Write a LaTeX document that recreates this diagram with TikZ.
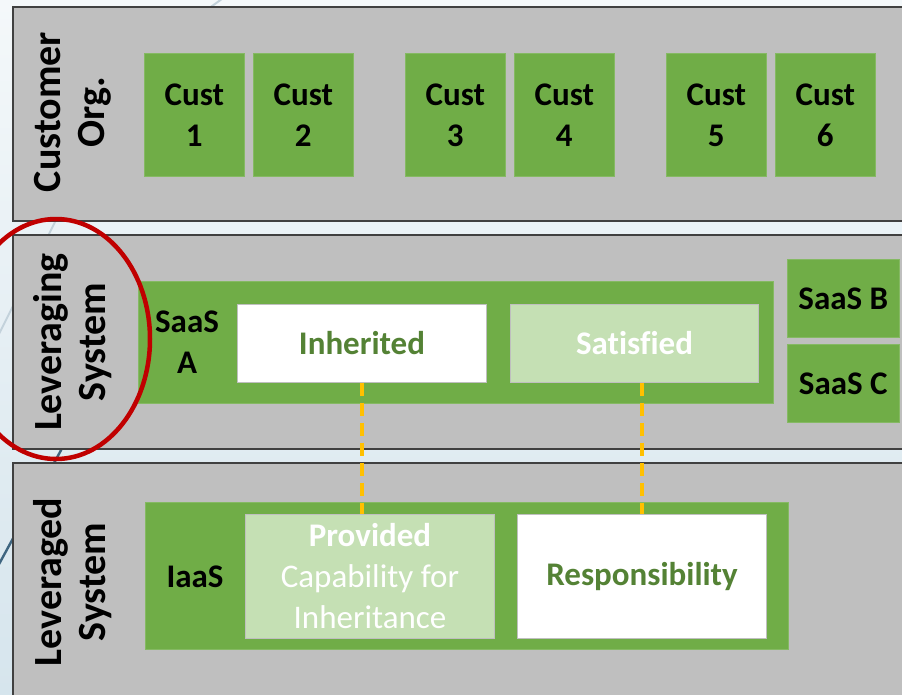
\documentclass[tikz,border=0pt]{standalone}
\usepackage{fontspec}
\setmainfont{Carlito}[Ligatures=NoCommon]
\definecolor{bandgray}{HTML}{BFBFBF}
\definecolor{bandedge}{HTML}{404040}
\definecolor{leafgreen}{HTML}{70AD47}
\definecolor{palegreen}{HTML}{C5E0B4}
\definecolor{deepgreen}{HTML}{548235}
\definecolor{ringred}{HTML}{C00000}
\definecolor{linkorange}{HTML}{FFC000}
\definecolor{skytop}{HTML}{F4F8FA}
\definecolor{skybottom}{HTML}{D6E5ED}
\definecolor{streaklight}{HTML}{C3D2DB}
\definecolor{streakdark}{HTML}{3E6580}
\begin{document}
\begin{tikzpicture}[x=1pt,y=-1pt,
  band/.style={fill=bandgray,draw=bandedge,line width=1.2pt},
  cell/.style={anchor=north west,inner sep=0pt,align=center,text=black,
    font=\fontsize{33}{41}\selectfont\bfseries},
  greenbox/.style={cell,fill=leafgreen,draw=leafgreen!85!white,line width=0.6pt},
  whitebox/.style={cell,fill=white,draw=bandgray,line width=1pt,text=deepgreen},
  palebox/.style={cell,fill=palegreen,draw=bandgray,line width=1pt,text=white},
  vlabel/.style={rotate=90,align=center,inner sep=0pt,
    font=\fontsize{40}{44}\selectfont\bfseries},
  textonly/.style={inner sep=0pt,align=center,
    font=\fontsize{33}{41}\selectfont\bfseries},
  link/.style={draw=linkorange,line width=3.5pt,dash pattern=on 13pt off 7pt}]
\useasboundingbox (0,0) rectangle (902,694);
\clip (0,0) rectangle (902,694);

% slide background and its streaks
\shade[top color=skytop,bottom color=skybottom] (0,0) rectangle (902,694);
\draw[streaklight,line width=2pt] (226,-4) -- (190,22);
\draw[streaklight,line width=2pt] (66,200) -- (-2,336);
\draw[streakdark,line width=2.4pt] (72,430) -- (-2,566);

% three horizontal bands
\draw[band] (13,7) rectangle (910,221);
\draw[band] (13,235) rectangle (910,449);
\draw[band] (13,463) rectangle (910,710);

% band titles
\node[vlabel] (lblcust) at (73,112) {Customer\\Org.};
\node[vlabel] (lblleveraging) at (73,342) {Leveraging\\System};
\node[vlabel] (lblleveraged) at (73,582) {Leveraged\\System};

% customer organisations
\node[greenbox,minimum width=100pt,minimum height=123pt] (c1) at (144,53) {Cust\\1};
\node[greenbox,minimum width=100pt,minimum height=123pt] (c2) at (253,53) {Cust\\2};
\node[greenbox,minimum width=100pt,minimum height=123pt] (c3) at (405,53) {Cust\\3};
\node[greenbox,minimum width=100pt,minimum height=123pt] (c4) at (514,53) {Cust\\4};
\node[greenbox,minimum width=100pt,minimum height=123pt] (c5) at (666,53) {Cust\\5};
\node[greenbox,minimum width=100pt,minimum height=123pt] (c6) at (775,53) {Cust\\6};

% leveraging system
\node[greenbox,minimum width=635pt,minimum height=122pt] (saasa) at (138,281) {};
\node[textonly] (saasalbl) at (187,342) {SaaS\\A};
\node[whitebox,minimum width=249pt,minimum height=78pt] (inh) at (237,304) {Inherited};
\node[palebox,minimum width=248pt,minimum height=78pt] (sat) at (510,304) {Satisfied};
\node[greenbox,minimum width=112pt,minimum height=78pt] (saasb) at (787,259) {SaaS B};
\node[greenbox,minimum width=112pt,minimum height=78pt] (saasc) at (787,344) {SaaS C};

% leveraged system
\node[greenbox,minimum width=643pt,minimum height=147pt] (iaas) at (145,502) {};
\node[textonly] (iaaslbl) at (195,577) {IaaS};
\node[palebox,minimum width=249pt,minimum height=124pt] (prov) at (245,514)
  {Provided\\{\mdseries Capability for}\\{\mdseries Inheritance}};
\node[whitebox,minimum width=249pt,minimum height=124pt] (resp) at (517,514) {Responsibility};

% dashed links between the layers
\draw[link] (inh.south) -- (inh.south |- prov.north);
\draw[link] (resp.north |- sat.south) -- (resp.north);

% highlight ring round the leveraging system title
\draw[ringred,line width=4.5pt] (56,339) ellipse [x radius=94,y radius=120];
\end{tikzpicture}
\end{document}
